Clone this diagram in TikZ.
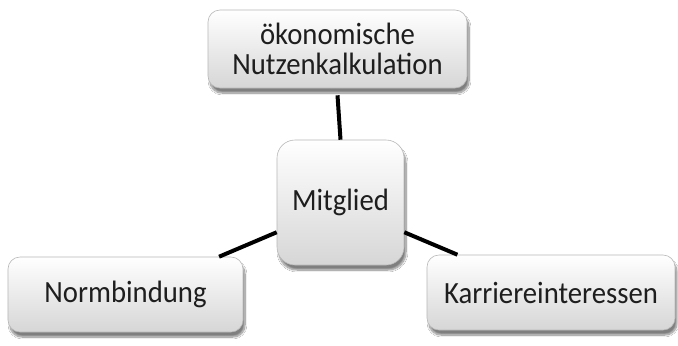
\documentclass[tikz,border=0pt]{standalone}
\usepackage{fontspec}
\setmainfont{Carlito}[FakeStretch=0.93]
\usetikzlibrary{shadows.blur}
\definecolor{txt}{HTML}{1E1E1E}
\definecolor{boxbot}{HTML}{D6D6D6}
\definecolor{boxedge}{HTML}{B8B8B8}
\tikzset{
  card/.style={rectangle, rounded corners=12bp, draw=boxedge, line width=0.6bp,
    top color=white, bottom color=boxbot, text=txt,
    font=\fontsize{31}{30}\selectfont, align=center, inner sep=0pt,
    blur shadow={shadow xshift=2bp, shadow yshift=-5bp, shadow blur steps=10, shadow opacity=50}},
  link/.style={line width=4bp, black}
}
\begin{document}
\begin{tikzpicture}[x=1bp,y=-1bp]
\useasboundingbox[fill=white] (0,0) rectangle (678,345);
\node[card, minimum width=259bp, minimum height=78bp] (top) at (337.5,49) {ökonomische\\Nutzenkalkulation};
\node[card, rounded corners=18bp, minimum width=127bp, minimum height=125bp] (mit) at (340.5,202.5) {Mitglied};
\node[card, minimum width=235bp, minimum height=75bp] (norm) at (125.5,294.5) {Normbindung};
\node[card, minimum width=248bp, minimum height=75bp] (kar) at (551,292.5) {Karriereinteressen};
\draw[link] ([yshift=-7bp]top.south) -- (mit.north);
\draw[link] (mit.205) -- (norm.22);
\draw[link] (mit.-25) -- (kar.158);
\end{tikzpicture}
\end{document}
